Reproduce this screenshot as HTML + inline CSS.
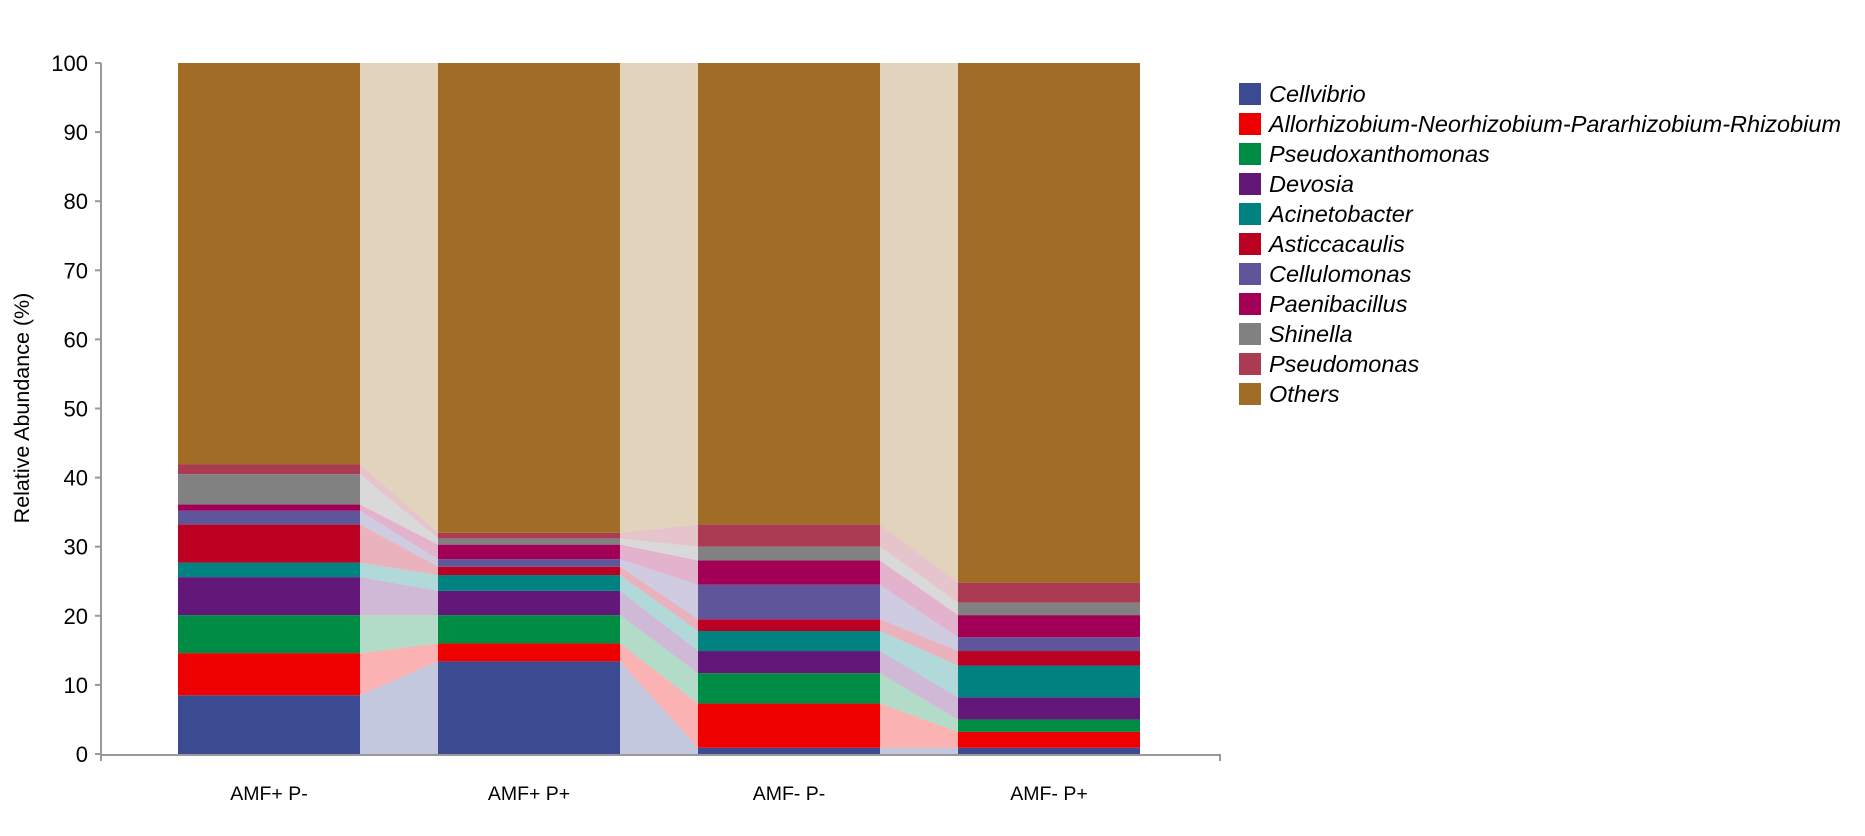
<!DOCTYPE html>
<html><head><meta charset="utf-8"><style>
body{margin:0;background:#fff;}
svg text{font-family:"Liberation Sans",sans-serif;}
</style></head><body>
<svg id="chart" width="1865" height="831" viewBox="0 0 1865 831" xmlns="http://www.w3.org/2000/svg">
<g id="plot"></g>
<g id="axes"></g>
<g id="legend"></g>
</svg>
<script>
const categories = ["AMF+ P-","AMF+ P+","AMF- P-","AMF- P+"];
const taxa = ["Cellvibrio","Allorhizobium-Neorhizobium-Pararhizobium-Rhizobium","Pseudoxanthomonas","Devosia","Acinetobacter","Asticcacaulis","Cellulomonas","Paenibacillus","Shinella","Pseudomonas","Others"];
const colors = ["#3b4a91","#ee0000","#008b45","#631879","#008280","#bb0021","#5f559b","#a20056","#808180","#ab3b53","#a06c26"];
const s1 = [8.5,6.1,5.5,5.5,2.1,5.5,2.0,0.9,4.4,1.4];
const s2 = [13.4,2.6,4.1,3.5,2.3,1.2,1.1,2.1,0.9,0.8];
const s3 = [0.9,6.4,4.4,3.2,2.9,1.7,5.0,3.5,2.0,3.2];
const s4 = [0.9,2.3,1.8,3.2,4.6,2.1,2.0,3.2,1.8,2.9];
const yTicks = [0,10,20,30,40,50,60,70,80,90,100];

const NS="http://www.w3.org/2000/svg";
const y0=754, yTop=63, barW=182, barX=[178,438,698,958];
const y=v=>y0-(v/100)*(y0-yTop);
function mk(t,a,p){const e=document.createElementNS(NS,t);for(const k in a)e.setAttribute(k,a[k]);p.appendChild(e);return e;}
const plot=document.getElementById('plot'), axes=document.getElementById('axes'), legend=document.getElementById('legend');
const series=[s1,s2,s3,s4].map(s=>{const sum=s.reduce((a,b)=>a+b,0);return s.concat([100-sum]);});
const cum=series.map(s=>{let c=[0];s.forEach(v=>c.push(c[c.length-1]+v));return c;});
for(let b=0;b<3;b++){
  for(let k=0;k<taxa.length;k++){
    const xa=barX[b]+barW, xb=barX[b+1];
    const p=mk('polygon',{points:`${xa},${y(cum[b][k])} ${xa},${y(cum[b][k+1])} ${xb},${y(cum[b+1][k+1])} ${xb},${y(cum[b+1][k])}`,fill:colors[k],'fill-opacity':0.3},plot);
    
    
  }
}
for(let b=0;b<4;b++){
  for(let k=0;k<taxa.length;k++){
    const r=mk('rect',{x:barX[b],y:y(cum[b][k+1]),width:barW,height:y(cum[b][k])-y(cum[b][k+1]),fill:colors[k]},plot);
    
    
  }
  const t=mk('text',{x:barX[b]+barW/2,y:800,'text-anchor':'middle','font-size':19.5,fill:'#000'},axes);
  t.textContent=categories[b];
  
  
}
mk('line',{x1:101,y1:yTop,x2:101,y2:y0+1,stroke:'#999','stroke-width':2},axes);
mk('line',{x1:100,y1:y0+1,x2:1221,y2:y0+1,stroke:'#999','stroke-width':2},axes);
mk('line',{x1:1220,y1:y0,x2:1220,y2:y0+7,stroke:'#999','stroke-width':2},axes);
mk('line',{x1:101,y1:y0,x2:101,y2:y0+7,stroke:'#999','stroke-width':2},axes);
yTicks.forEach(v=>{
  mk('line',{x1:95,y1:y(v),x2:101,y2:y(v),stroke:'#999','stroke-width':2},axes);
  const t=mk('text',{x:88,y:y(v)+8,'text-anchor':'end','font-size':22,fill:'#000'},axes);
  t.textContent=v;
  
  
});
const yt=mk('text',{x:0,y:0,'text-anchor':'middle','font-size':21.5,fill:'#000',transform:'translate(29,408) rotate(-90)'},axes);
yt.textContent='Relative Abundance (%)';


taxa.forEach((n,k)=>{
  const g=mk('g',{},legend);
  
  
  mk('rect',{x:1239,y:83+k*30,width:22,height:22,fill:colors[k]},g);
  const t=mk('text',{x:1269,y:102+k*30,'font-size':23.5,'font-style':'italic',fill:'#000'},g);
  t.textContent=n;
});
</script>
</body></html>
